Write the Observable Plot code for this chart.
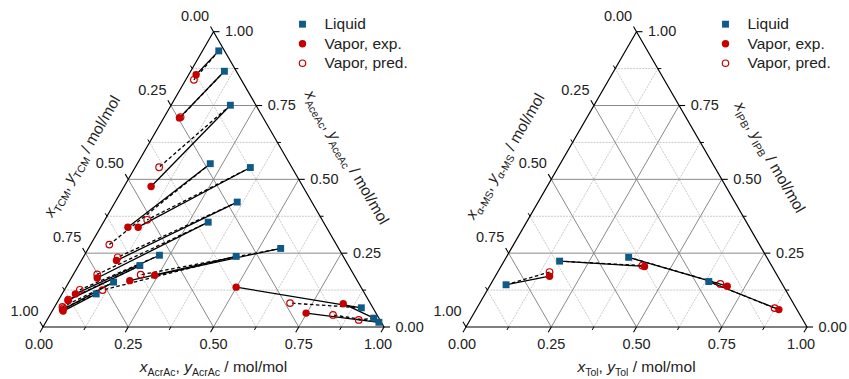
<!DOCTYPE html>
<html><head><meta charset="utf-8">
<script src="https://cdn.jsdelivr.net/npm/d3@7"></script>
<script src="https://cdn.jsdelivr.net/npm/@observablehq/plot@0.6"></script>
<style>
html,body{margin:0;padding:0;background:#fff;}
#chart{width:849px;height:379px;overflow:hidden;}
</style></head><body><div id="chart"></div>
<script>
// ---------- Left panel: TCM / AcrAc / AceAc (bottom = AcrAc, right = AceAc) ----------
const liqAcrAc  = [0.048, 0.099, 0.174, 0.214, 0.338, 0.358, 0.307, 0.564, 0.447, 0.220, 0.180, 0.131, 0.100, 0.901, 0.955, 0.977];
const liqAceAc  = [0.935, 0.866, 0.751, 0.553, 0.540, 0.423, 0.355, 0.266, 0.239, 0.243, 0.208, 0.152, 0.112, 0.065, 0.030, 0.016];
const expAcrAc  = [0.022, 0.046, 0.079, 0.080, 0.110, 0.103, 0.076, 0.240, 0.176, 0.039, 0.028, 0.028, 0.032, 0.499, 0.841, 0.748];
const expAceAc  = [0.854, 0.708, 0.476, 0.338, 0.338, 0.225, 0.166, 0.175, 0.157, 0.112, 0.090, 0.058, 0.054, 0.135, 0.079, 0.047];
const predAcrAc = [0.024, 0.048, 0.070, 0.055, 0.124, 0.101, 0.070, 0.198, 0.112, 0.045, 0.028, 0.023, 0.028, 0.684, 0.914, 0.830];
const predAceAc = [0.837, 0.711, 0.541, 0.279, 0.363, 0.236, 0.178, 0.177, 0.125, 0.126, 0.093, 0.068, 0.064, 0.081, 0.024, 0.041];

// ---------- Right panel: α-MS / Tol / IPB (bottom = Tol, right = IPB) ----------
const liqTol  = [0.046, 0.163, 0.359, 0.635];
const liqIPB  = [0.143, 0.223, 0.236, 0.154];
const expTol  = [0.159, 0.421, 0.697, 0.888];
const expIPB  = [0.172, 0.205, 0.138, 0.059];
const predTol = [0.152, 0.413, 0.673, 0.873];
const predIPB = [0.186, 0.208, 0.146, 0.064];

// ---------- Axis ticks & labels ----------
const majorTicks = [0, 0.25, 0.5, 0.75, 1];
const minorTicks = [0.125, 0.375, 0.625, 0.875];
const gridMajor = [0.25, 0.5, 0.75];
const legendLabels = ["Liquid", "Vapor, exp.", "Vapor, pred."];

const titlesLeft  = {bottom: "x_{AcrAc}, y_{AcrAc} / mol/mol", left: "x_{TCM}, y_{TCM} / mol/mol", right: "x_{AceAc}, y_{AceAc} / mol/mol"};
const titlesRight = {bottom: "x_{Tol}, y_{Tol} / mol/mol", left: "x_{α-MS}, y_{α-MS} / mol/mol", right: "x_{IPB}, y_{IPB} / mol/mol"};

const BLUE = "#105a88", RED = "#c40000";
const S = Math.sqrt(3) / 2;
const UNIT = 341;               // pixels per unit edge
const OFF2 = 423 / UNIT;        // horizontal offset of second triangle

function pt(a, c, off) { return {x: off + a + c / 2, y: c * S}; }

function panelMarks(off, liqA, liqC, expA, expC, prdA, prdC, titles) {
  const marks = [];
  const segs = (vals) => {
    const out = [];
    for (const v of vals) {
      let p = pt(v, 0, off), q = pt(v, 1 - v, off); out.push({x1: p.x, y1: p.y, x2: q.x, y2: q.y});
      p = pt(0, v, off); q = pt(1 - v, v, off); out.push({x1: p.x, y1: p.y, x2: q.x, y2: q.y});
      p = pt(1 - v, 0, off); q = pt(0, 1 - v, off); out.push({x1: p.x, y1: p.y, x2: q.x, y2: q.y});
    }
    return out;
  };
  marks.push(Plot.link(segs(minorTicks), {x1: "x1", y1: "y1", x2: "x2", y2: "y2", stroke: "#c4c4c4", strokeWidth: 0.9, strokeDasharray: "2,1"}));
  marks.push(Plot.link(segs(gridMajor), {x1: "x1", y1: "y1", x2: "x2", y2: "y2", stroke: "#8a8a8a", strokeWidth: 1}));
  // outline
  const tri = [pt(0, 0, off), pt(1, 0, off), pt(0, 1, off), pt(0, 0, off)];
  marks.push(Plot.line(tri, {x: "x", y: "y", stroke: "black", strokeWidth: 1.2}));
  // ticks
  const tickSegs = (vals, L) => {
    L = L / UNIT; const out = [];
    for (const v of vals) {
      let p = pt(v, 0, off); out.push({x1: p.x, y1: p.y, x2: p.x - 0.5 * L, y2: p.y - S * L});
      p = pt(1 - v, v, off); out.push({x1: p.x, y1: p.y, x2: p.x + L, y2: p.y});
      p = pt(0, 1 - v, off); out.push({x1: p.x, y1: p.y, x2: p.x - 0.5 * L, y2: p.y + S * L});
    }
    return out;
  };
  marks.push(Plot.link(tickSegs(majorTicks, 6), {x1: "x1", y1: "y1", x2: "x2", y2: "y2", stroke: "black", strokeWidth: 1.1}));
  marks.push(Plot.link(tickSegs(minorTicks, 3.5), {x1: "x1", y1: "y1", x2: "x2", y2: "y2", stroke: "black", strokeWidth: 1}));
  // tick labels
  const fmt = d3.format(".2f");
  const bottomMid = majorTicks.filter(v => v > 0 && v < 1);
  marks.push(Plot.text(bottomMid, {x: v => pt(v, 0, off).x, y: v => 0, text: fmt, dy: 17, fontSize: 14.5, fill: "#222"}));
  marks.push(Plot.text([0], {x: v => pt(v, 0, off).x, y: v => 0, text: fmt, dy: 17, dx: -4, fontSize: 14.5, fill: "#222"}));
  marks.push(Plot.text([1], {x: v => pt(v, 0, off).x, y: v => 0, text: fmt, dy: 17, dx: -6, fontSize: 14.5, fill: "#222"}));
  marks.push(Plot.text(majorTicks, {x: v => pt(1 - v, v, off).x, y: v => pt(1 - v, v, off).y, text: fmt, dx: 11.5, textAnchor: "start", fontSize: 14.5, fill: "#222"}));
  marks.push(Plot.text(majorTicks, {x: v => pt(0, 1 - v, off).x, y: v => pt(0, 1 - v, off).y, text: fmt, dx: -18.5, dy: -15.5, fontSize: 14.5, fill: "#222"}));
  // axis titles
  const mb = pt(0.5, 0, off), ml = pt(0, 0.5, off), mr = pt(0.5, 0.5, off);
  marks.push(Plot.text([titles.bottom], {x: () => mb.x, y: () => mb.y, text: d => d, dy: 40, fontSize: 15.5, fill: "#222"}));
  marks.push(Plot.text([titles.left], {x: () => ml.x, y: () => ml.y, text: d => d, dx: -46, dy: -23, rotate: -60, fontSize: 15.5, fill: "#222"}));
  marks.push(Plot.text([titles.right], {x: () => mr.x, y: () => mr.y, text: d => d, dx: 48, dy: -22, rotate: 60, fontSize: 15.5, fill: "#222"}));
  // tie lines
  const idx = d3.range(liqA.length);
  marks.push(Plot.link(idx, {x1: i => pt(liqA[i], liqC[i], off).x, y1: i => pt(liqA[i], liqC[i], off).y,
    x2: i => pt(prdA[i], prdC[i], off).x, y2: i => pt(prdA[i], prdC[i], off).y, stroke: "black", strokeWidth: 1.3, strokeDasharray: "3.5,2.5"}));
  marks.push(Plot.link(idx, {x1: i => pt(liqA[i], liqC[i], off).x, y1: i => pt(liqA[i], liqC[i], off).y,
    x2: i => pt(expA[i], expC[i], off).x, y2: i => pt(expA[i], expC[i], off).y, stroke: "black", strokeWidth: 1.3}));
  // points
  marks.push(Plot.dot(idx, {x: i => pt(prdA[i], prdC[i], off).x, y: i => pt(prdA[i], prdC[i], off).y, r: 3.3, fill: "none", stroke: RED, strokeWidth: 1.2}));
  marks.push(Plot.dot(idx, {x: i => pt(expA[i], expC[i], off).x, y: i => pt(expA[i], expC[i], off).y, r: 3.7, fill: RED, stroke: "none"}));
  marks.push(Plot.dot(idx, {x: i => pt(liqA[i], liqC[i], off).x, y: i => pt(liqA[i], liqC[i], off).y, r: 3.9, symbol: "square", fill: BLUE, stroke: "none"}));
  // legend (anchored to top vertex)
  const top = pt(0, 1, off);
  const anchor = [{x: top.x, y: top.y}];
  marks.push(Plot.dot(anchor, {x: "x", y: "y", dx: 89, dy: -7.5, r: 3.9, symbol: "square", fill: BLUE}));
  marks.push(Plot.dot(anchor, {x: "x", y: "y", dx: 89, dy: 12, r: 3.7, fill: RED}));
  marks.push(Plot.dot(anchor, {x: "x", y: "y", dx: 89, dy: 31.5, r: 3.2, fill: "none", stroke: RED, strokeWidth: 1.2}));
  [-7.5, 12, 31.5].forEach((dy, k) => {
    marks.push(Plot.text(anchor, {x: "x", y: "y", text: () => legendLabels[k], dx: 111, dy, textAnchor: "start", fontSize: 15.5, fill: "#222"}));
  });
  return marks;
}

const chart = Plot.plot({
  width: 849, height: 379, margin: 0,
  x: {domain: [-42.5 / UNIT, (849 - 42.5) / UNIT], axis: null},
  y: {domain: [(326.5 - 379) / UNIT, 326.5 / UNIT], axis: null},
  style: {fontFamily: "'Liberation Sans', Arial, Helvetica, sans-serif", background: "white", overflow: "visible"},
  marks: [
    ...panelMarks(0, liqAcrAc, liqAceAc, expAcrAc, expAceAc, predAcrAc, predAceAc, titlesLeft),
    ...panelMarks(OFF2, liqTol, liqIPB, expTol, expIPB, predTol, predIPB, titlesRight)
  ]
});

// rich text: italic variable + subscript
const NS = "http://www.w3.org/2000/svg";
chart.querySelectorAll("text").forEach(t => {
  const s = t.textContent;
  if (!s.includes("_{")) return;
  const parts = s.split(/([xy])_\{([^}]*)\}/);
  t.textContent = "";
  let shifted = false;
  const add = (txt, attrs) => {
    const ts = document.createElementNS(NS, "tspan");
    for (const k in attrs) ts.setAttribute(k, attrs[k]);
    ts.textContent = txt;
    t.appendChild(ts);
  };
  for (let i = 0; i < parts.length; i += 3) {
    if (parts[i]) { add(parts[i], shifted ? {dy: -4} : {}); shifted = false; }
    if (i + 1 < parts.length) {
      add(parts[i + 1], Object.assign({"font-style": "italic"}, shifted ? {dy: -4} : {}));
      add(parts[i + 2], {"font-size": "10.5px", dy: 4});
      shifted = true;
    }
  }
});

document.getElementById("chart").appendChild(chart);
</script>
</body></html>
